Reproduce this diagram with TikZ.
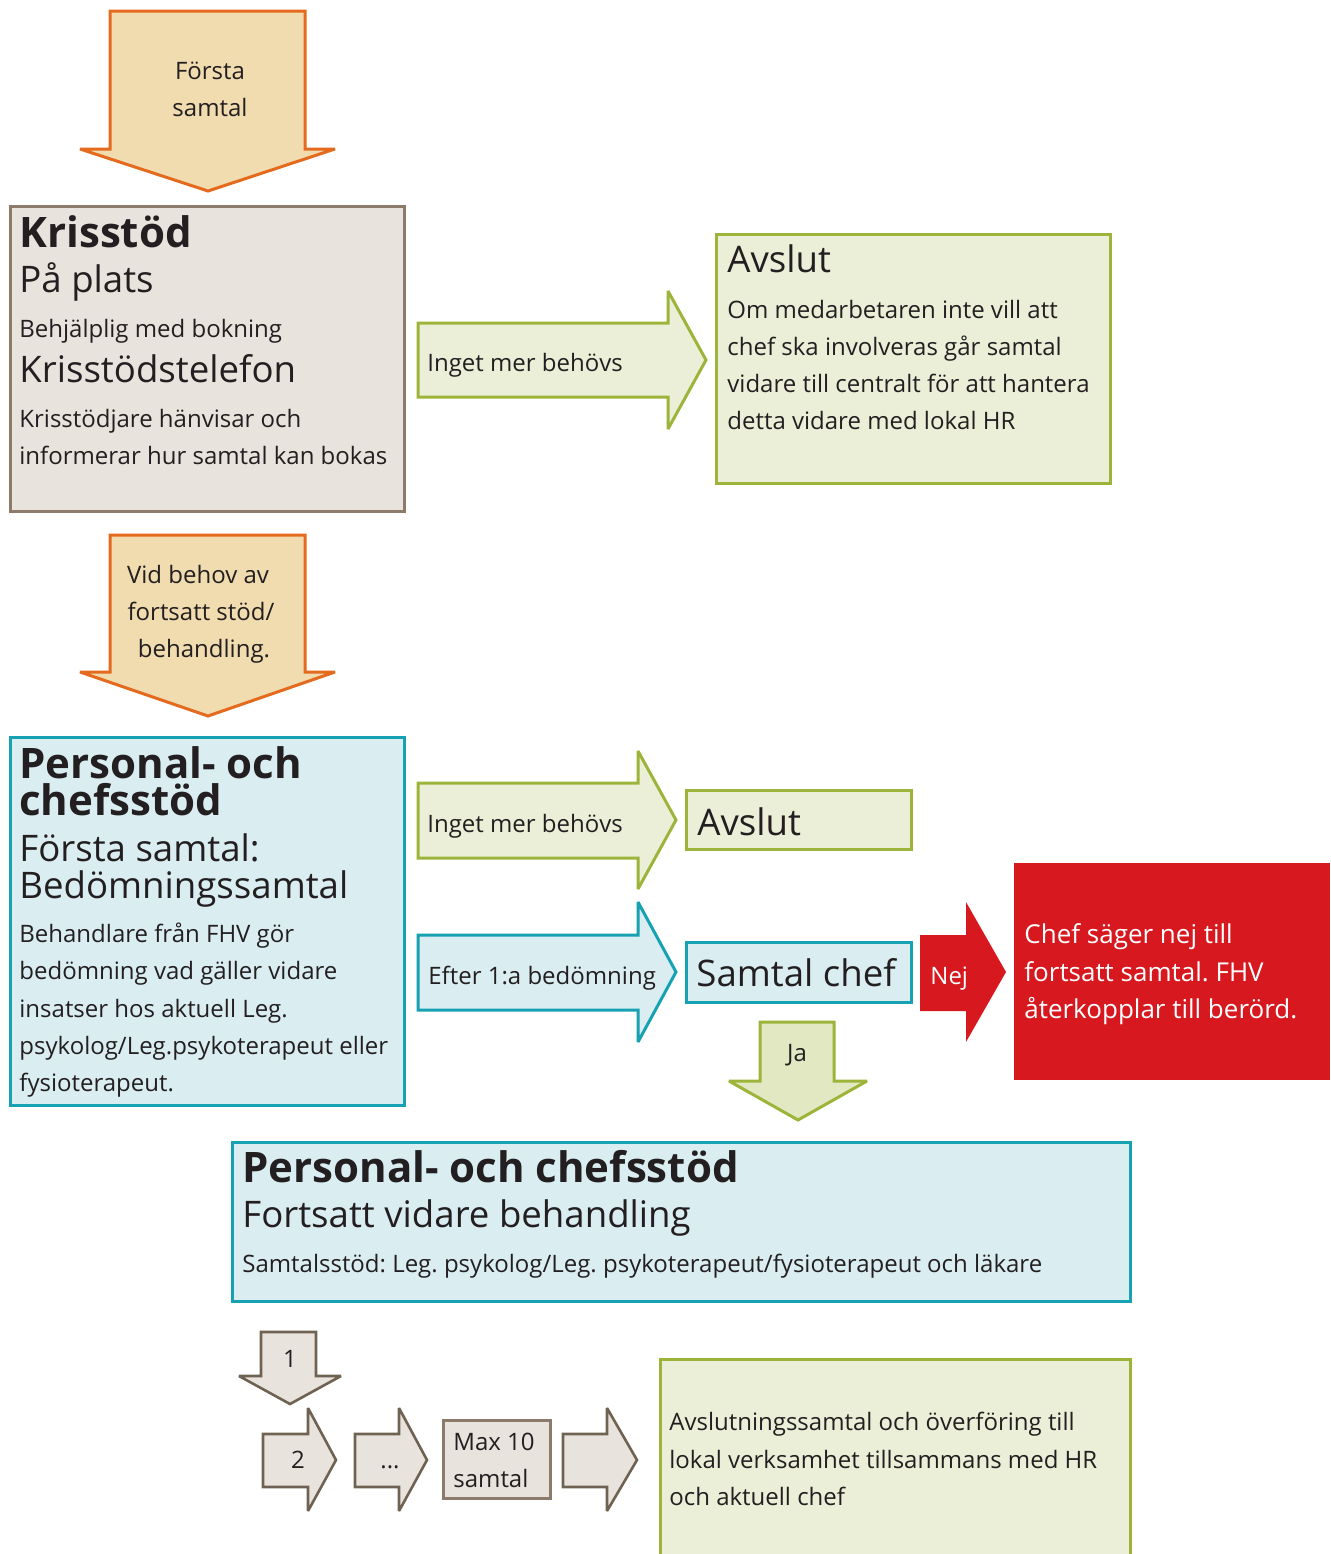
\documentclass[tikz,border=0pt]{standalone}
\usepackage{fontspec}
\setmainfont{Open Sans}

\definecolor{ink}{HTML}{231F20}
\definecolor{wheatfill}{HTML}{F1DCB0}
\definecolor{orangeline}{HTML}{E46A1E}
\definecolor{stonefill}{HTML}{E8E3DD}
\definecolor{stoneline}{HTML}{8C7B6B}
\definecolor{darkstone}{HTML}{6F6253}
\definecolor{leaffill}{HTML}{EBEFD8}
\definecolor{leafline}{HTML}{9DB43A}
\definecolor{jafill}{HTML}{E1E8C2}
\definecolor{skyfill}{HTML}{DAEEF2}
\definecolor{tealline}{HTML}{16A2B2}
\definecolor{alarmred}{HTML}{D7181F}

\tikzset{
  txt/.style={anchor=base west, inner sep=0pt, text=ink, font=\fontsize{12}{14}\selectfont},
  head/.style={txt, font=\fontsize{18.3}{22}\selectfont},
  title/.style={txt, font=\fontsize{21}{25}\selectfont\bfseries},
  ctxt/.style={txt, anchor=base},
  redtxt/.style={txt, text=white, font=\fontsize{13}{15}\selectfont},
  blockarrow/.style={line width=1.5pt, miter limit=2},
  warmarrow/.style={blockarrow, fill=wheatfill, draw=orangeline},
  stonebox/.style={fill=stonefill, draw=stoneline, line width=1.5pt},
  stonearrow/.style={blockarrow, fill=stonefill, draw=darkstone, line width=1.3pt},
  leafbox/.style={fill=leaffill, draw=leafline, line width=1.5pt},
  leafarrow/.style={blockarrow, fill=leaffill, draw=leafline},
  jaarrow/.style={blockarrow, fill=jafill, draw=leafline},
  skybox/.style={fill=skyfill, draw=tealline, line width=1.5pt},
  skyarrow/.style={blockarrow, fill=skyfill, draw=tealline}
}

\begin{document}
\frenchspacing
\begin{tikzpicture}[x=0.5pt, y=-0.5pt]
    \useasboundingbox (0,0) rectangle (1330,1554);

    % first call
    \draw[warmarrow] (110,11) -- (305,11) -- (305,149) -- (335,149) -- (208,191) -- (80,149) -- (110,149) -- cycle;
    \node[ctxt] (forsta1) at (210,79) {Första};
    \node[ctxt] (forsta2) at (210,116) {samtal};

    % Krisstöd
    \draw[stonebox] (10,206) rectangle (404,511);
    \node[title] (kris) at (19,247) {Krisstöd};
    \node[head] (plats) at (19,292) {På plats};
    \node[txt] (bokning) at (19,337) {Behjälplig med bokning};
    \node[head] (telefon) at (19,382) {Krisstödstelefon};
    \node[txt] (hanvisar) at (19,427) {Krisstödjare hänvisar och};
    \node[txt] (bokas) at (19,464) {informerar hur samtal kan bokas};

    \draw[leafarrow] (418,323) -- (668,323) -- (668,291) -- (706,360) -- (668,429) -- (668,397) -- (418,397) -- cycle;
    \node[txt] (inget1) at (427,371) {Inget mer behövs};

    % Avslut, top
    \draw[leafbox] (716,234) rectangle (1110,483);
    \node[head] (avslut1) at (727,272) {Avslut};
    \node[txt] (avslutA) at (727,318) {Om medarbetaren inte vill att};
    \node[txt] (avslutB) at (727,355) {chef ska involveras går samtal};
    \node[txt] (avslutC) at (727,392) {vidare till centralt för att hantera};
    \node[txt] (avslutD) at (727,429) {detta vidare med lokal HR};

    % second call
    \draw[warmarrow] (110,535) -- (305,535) -- (305,672) -- (335,672) -- (208,716) -- (80,672) -- (110,672) -- cycle;
    \node[ctxt] (behov1) at (198,583) {Vid behov av};
    \node[ctxt] (behov2) at (201,620) {fortsatt stöd/};
    \node[ctxt] (behov3) at (204,657) {behandling.};

    % Personal- och chefsstöd, first
    \draw[skybox] (10,737) rectangle (404,1105);
    \node[title, align=left, font=\fontsize{21}{18.5}\selectfont\bfseries] (pers) at (19,815) {Personal- och\\chefsstöd};
    \node[head] (bedom1) at (19,861) {Första samtal:};
    \node[head] (bedom2) at (19,898) {Bedömningssamtal};
    \node[txt] (behA) at (19,942) {Behandlare från FHV gör};
    \node[txt] (behB) at (19,979) {bedömning vad gäller vidare};
    \node[txt] (behC) at (19,1017) {insatser hos aktuell Leg.};
    \node[txt] (behD) at (19,1054) {psykolog/Leg.psykoterapeut eller};
    \node[txt] (behE) at (19,1091) {fysioterapeut.};

    \draw[leafarrow] (418,783) -- (638,783) -- (638,751) -- (676,820) -- (638,889) -- (638,858) -- (418,858) -- cycle;
    \node[txt] (inget2) at (427,832) {Inget mer behövs};
    \draw[leafbox] (686,790) rectangle (911,849);
    \node[head] (avslut2) at (697,835) {Avslut};

    \draw[skyarrow] (418,935) -- (638,935) -- (638,902) -- (676,972) -- (638,1042) -- (638,1010) -- (418,1010) -- cycle;
    \node[txt] (efter) at (428,984) {Efter 1:a bedömning};
    \draw[skybox] (686,942) rectangle (911,1002);
    \node[head] (chef) at (696,986) {Samtal chef};

    % no from the manager
    \fill[alarmred, miter limit=2] (920,935) -- (966,935) -- (966,902) -- (1006,972) -- (966,1042) -- (966,1011) -- (920,1011) -- cycle;
    \node[txt, text=white] (nej) at (930,984) {Nej};
    \fill[alarmred] (1014,863) rectangle (1330,1080);
    \node[redtxt] (nejA) at (1024,943) {Chef säger nej till};
    \node[redtxt] (nejB) at (1024,981) {fortsatt samtal. FHV};
    \node[redtxt] (nejC) at (1024,1018) {återkopplar till berörd.};

    \draw[jaarrow] (760,1022) -- (834,1022) -- (834,1081) -- (867,1081) -- (798,1120) -- (729,1081) -- (760,1081) -- cycle;
    \node[ctxt] (ja) at (797,1061) {Ja};

    % Personal- och chefsstöd, continued
    \draw[skybox] (232,1142) rectangle (1130,1301);
    \node[title] (fort1) at (242,1182) {Personal- och chefsstöd};
    \node[head] (fort2) at (242,1227) {Fortsatt vidare behandling};
    \node[txt] (fort3) at (242,1272) {Samtalsstöd: Leg. psykolog/Leg. psykoterapeut/fysioterapeut och läkare};

    % sessions
    \draw[stonearrow] (261,1332) -- (316,1332) -- (316,1376) -- (341,1376) -- (290,1404) -- (239,1376) -- (261,1376) -- cycle;
    \node[ctxt] (steg1) at (290,1367) {1};
    \draw[stonearrow] (263,1434) -- (308,1434) -- (308,1408) -- (336,1460) -- (308,1511) -- (308,1487) -- (263,1487) -- cycle;
    \node[ctxt] (steg2) at (298,1468) {2};
    \draw[stonearrow] (355,1434) -- (399,1434) -- (399,1408) -- (427,1460) -- (399,1511) -- (399,1487) -- (355,1487) -- cycle;
    \node[ctxt] (steg3) at (390,1468) {...};
    \draw[stonebox] (443,1420) rectangle (550,1498);
    \node[txt] (maxA) at (453,1450) {Max 10};
    \node[txt] (maxB) at (453,1487) {samtal};
    \draw[stonearrow] (563,1434) -- (607,1434) -- (607,1408) -- (637,1460) -- (607,1511) -- (607,1487) -- (563,1487) -- cycle;

    % closing
    \draw[leafbox] (660,1359) rectangle (1130,1575);
    \node[txt] (slutA) at (669,1430) {Avslutningssamtal och överföring till};
    \node[txt] (slutB) at (669,1468) {lokal verksamhet tillsammans med HR};
    \node[txt] (slutC) at (669,1505) {och aktuell chef};
\end{tikzpicture}
\end{document}
